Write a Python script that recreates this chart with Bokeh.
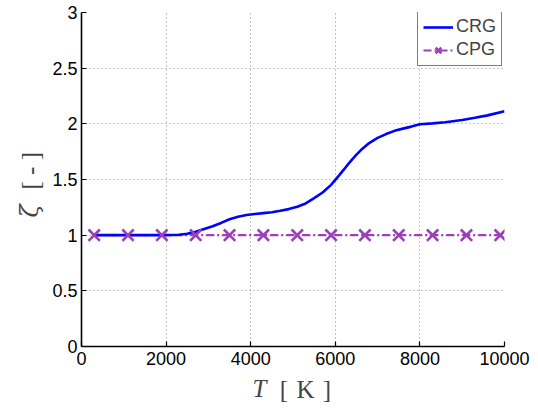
import math
from bokeh.plotting import figure
from bokeh.models import Range1d, FixedTicker, Legend, LegendItem, Label
from bokeh.embed import file_html
from bokeh.resources import INLINE

# Compressibility factor zeta vs temperature T for the two gas models
crg_T = [300, 1000, 1500, 2000, 2300, 2500, 2700, 2900, 3100, 3300, 3500, 3700,
         3900, 4100, 4300, 4500, 4700, 4900, 5100, 5300, 5500, 5700, 5900, 6000,
         6100, 6200, 6300, 6400, 6500, 6600, 6800, 7000, 7200, 7400, 7600, 7800,
         8000, 8300, 8600, 9000, 9300, 9600, 10000]
crg_zeta = [1.0, 1.0, 1.0, 1.0, 1.004, 1.012, 1.03, 1.055, 1.08, 1.11, 1.143, 1.166,
            1.181, 1.19, 1.198, 1.206, 1.219, 1.234, 1.255, 1.285, 1.332, 1.383, 1.452, 1.497,
            1.542, 1.588, 1.636, 1.681, 1.723, 1.762, 1.827, 1.874, 1.908, 1.937, 1.957, 1.975,
            1.996, 2.004, 2.014, 2.035, 2.054, 2.076, 2.114]

cpg_T = [300, 10000]
cpg_zeta = [1.0, 1.0]
cpg_marker_T = [300, 1100, 1900, 2700, 3500, 4300, 5100, 5900, 6700, 7500, 8300, 9100, 9900]
cpg_marker_zeta = [1.0] * len(cpg_marker_T)

x_ticks = [0, 2000, 4000, 6000, 8000, 10000]
x_tick_labels = ["0", "2000", "4000", "6000", "8000", "10000"]
y_ticks = [0, 0.5, 1, 1.5, 2, 2.5, 3]
y_tick_labels = ["0", "0.5", "1", "1.5", "2", "2.5", "3"]

CRG_COLOR = "#0000FF"
CPG_COLOR = "#9B40B8"
TICK_FONT = "Liberation Sans"
LABEL_FONT = "Liberation Serif"
NBSP = "\u00a0"
HAIR = "\u200a"

p = figure(width=538, height=412, output_backend="svg", toolbar_location=None,
           x_range=Range1d(0, 10000), y_range=Range1d(0, 3),
           min_border_left=81, min_border_right=34, min_border_top=12,
           min_border_bottom=66)
p.outline_line_color = None
p.background_fill_color = "white"
p.border_fill_color = "white"

for ax, ticks, labels in ((p.xaxis, x_ticks, x_tick_labels), (p.yaxis, y_ticks, y_tick_labels)):
    ax.ticker = FixedTicker(ticks=ticks)
    ax.major_label_overrides = {t: l for t, l in zip(ticks, labels)}
    ax.axis_line_width = 1.6
    ax.axis_line_color = "black"
    ax.major_tick_in = 5
    ax.major_tick_out = 0
    ax.major_tick_line_width = 1.2
    ax.minor_tick_line_color = None
    ax.major_label_text_font = TICK_FONT
    ax.major_label_text_font_size = "18px"
    ax.major_label_text_color = "black"
    ax.axis_label_text_font = LABEL_FONT
    ax.axis_label_text_font_style = "normal"
    ax.axis_label_text_font_size = "25px"
p.xaxis.major_label_standoff = 5
p.yaxis.major_label_standoff = 4

# Unit parts of the axis titles (the italic symbols are separate labels);
# leading no-break spaces move the unit off-centre to leave room for the symbol
p.xaxis.axis_label = NBSP * 4 + "[" + HAIR + " K " + HAIR + "]"
p.xaxis.axis_label_standoff = 8
p.yaxis.axis_label = NBSP * 2 + "\u2009" + "[ - ]"
p.yaxis.axis_label_standoff = 5

for g in (p.xgrid, p.ygrid):
    g.grid_line_color = "#8a8a8a"
    g.grid_line_dash = "1 3"
    g.grid_line_width = 1

cpg_line = p.line(cpg_T, cpg_zeta, line_color=CPG_COLOR, line_width=2.2,
                  line_dash="8 3 2 3")
crg_line = p.line(crg_T, crg_zeta, line_color=CRG_COLOR, line_width=2.6)
cpg_marks = p.scatter(cpg_marker_T, cpg_marker_zeta, marker="x", size=16,
                      line_color=CPG_COLOR, line_width=2.6)

legend = Legend(items=[LegendItem(label="CRG", renderers=[crg_line]),
                       LegendItem(label="CPG", renderers=[cpg_line, cpg_marks])],
                location=(336, 280))
legend.label_text_font = TICK_FONT
legend.label_text_font_size = "18px"
legend.label_standoff = 3
legend.glyph_width = 30
legend.glyph_height = 20
legend.label_height = 20
legend.padding = 5
legend.spacing = 2
legend.margin = 0
legend.border_line_color = "black"
legend.border_line_width = 1.6
legend.background_fill_color = "white"
legend.background_fill_alpha = 1
p.add_layout(legend)

# Italic symbols of the axis titles, kept in narrow side panels
t_label = Label(x=266, y=-42, x_units="screen", y_units="screen", text="T",
                text_align="right", text_baseline="alphabetic",
                text_font=LABEL_FONT, text_font_style="italic", text_font_size="25px")
p.add_layout(t_label, "left")
zeta_label = Label(x=-475, y=129, x_units="screen", y_units="screen", text="ζ",
                   angle=math.pi / 2, text_align="left", text_baseline="middle",
                   text_font="DejaVu Serif", text_font_style="italic", text_font_size="24px")
p.add_layout(zeta_label, "right")

open("out.html", "w").write(file_html(p, INLINE))
